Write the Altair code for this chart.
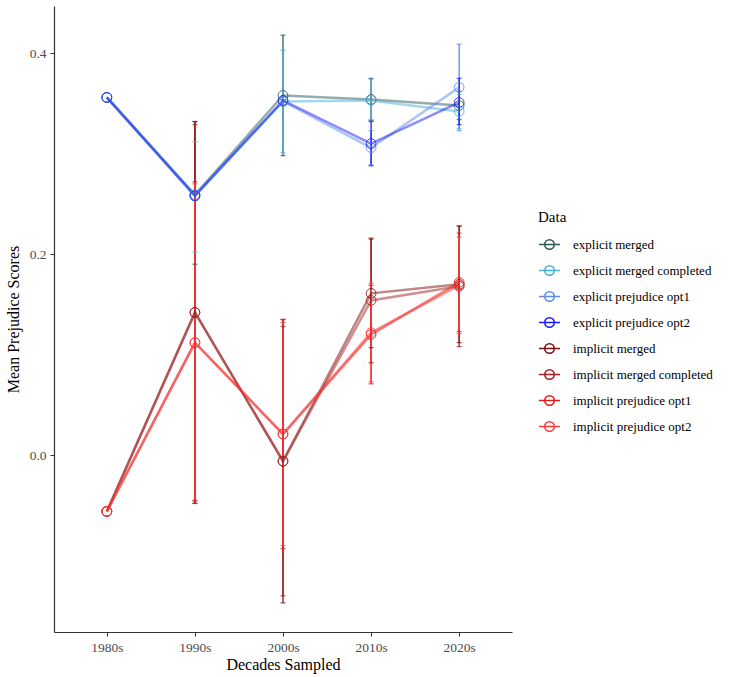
import altair as alt
import pandas as pd

decades = ["1980s", "1990s", "2000s", "2010s", "2020s"]
series_names = [
    "explicit merged", "explicit merged completed",
    "explicit prejudice opt1", "explicit prejudice opt2",
    "implicit merged", "implicit merged completed",
    "implicit prejudice opt1", "implicit prejudice opt2",
]
colors = ["#2f5b5b", "#45b0dd", "#5b8de8", "#1a1aff",
          "#7a1010", "#a82020", "#e81818", "#ff3a3a"]

# means per series (1980s..2020s)
explicit_merged = [0.356, 0.259, 0.358, 0.354, 0.348]
explicit_merged_completed = [0.356, 0.258, 0.352, 0.353, 0.342]
explicit_opt1 = [0.356, 0.259, 0.352, 0.306, 0.366]
explicit_opt2 = [0.356, 0.258, 0.353, 0.310, 0.351]
implicit_merged = [-0.056, 0.142, -0.006, 0.161, 0.170]
implicit_merged_completed = [-0.056, 0.142, -0.006, 0.154, 0.168]
implicit_opt1 = [-0.056, 0.112, 0.021, 0.120, 0.172]
implicit_opt2 = [-0.056, 0.112, 0.021, 0.122, 0.169]

# error bar bounds (None = no bar)
explicit_merged_lo = [None, 0.190, 0.298, 0.333, 0.334]
explicit_merged_hi = [None, 0.332, 0.418, 0.375, 0.362]
explicit_merged_completed_lo = [None, 0.202, 0.301, 0.334, 0.325]
explicit_merged_completed_hi = [None, 0.312, 0.403, 0.374, 0.359]
explicit_opt1_lo = [None, None, None, 0.289, 0.323]
explicit_opt1_hi = [None, None, None, 0.323, 0.409]
explicit_opt2_lo = [None, None, None, 0.288, 0.329]
explicit_opt2_hi = [None, None, None, 0.332, 0.375]
implicit_merged_lo = [None, -0.048, -0.147, 0.107, 0.112]
implicit_merged_hi = [None, 0.332, 0.135, 0.215, 0.228]
implicit_merged_completed_lo = [None, -0.045, -0.140, 0.092, 0.108]
implicit_merged_completed_hi = [None, 0.329, 0.128, 0.216, 0.228]
implicit_opt1_lo = [None, -0.048, -0.093, 0.071, 0.123]
implicit_opt1_hi = [None, 0.272, 0.135, 0.169, 0.221]
implicit_opt2_lo = [None, -0.046, -0.090, 0.073, 0.121]
implicit_opt2_hi = [None, 0.270, 0.132, 0.171, 0.217]

means = [explicit_merged, explicit_merged_completed, explicit_opt1, explicit_opt2,
         implicit_merged, implicit_merged_completed, implicit_opt1, implicit_opt2]
los = [explicit_merged_lo, explicit_merged_completed_lo, explicit_opt1_lo, explicit_opt2_lo,
       implicit_merged_lo, implicit_merged_completed_lo, implicit_opt1_lo, implicit_opt2_lo]
his = [explicit_merged_hi, explicit_merged_completed_hi, explicit_opt1_hi, explicit_opt2_hi,
       implicit_merged_hi, implicit_merged_completed_hi, implicit_opt1_hi, implicit_opt2_hi]

rows, err_rows = [], []
for si, name in enumerate(series_names):
    for di, d in enumerate(decades):
        rows.append({"Data": name, "decade": d, "mean": means[si][di], "order": si})
        if los[si][di] is not None:
            err_rows.append({"Data": name, "decade": d, "lo": los[si][di],
                             "hi": his[si][di], "order": si})
df = pd.DataFrame(rows)
edf = pd.DataFrame(err_rows)

FONT = "Liberation Serif"
xenc = alt.X("decade:O", sort=decades, title="Decades Sampled",
             scale=alt.Scale(type="point", padding=0.6),
             axis=alt.Axis(labelAngle=0))
yscale = alt.Scale(domain=[-0.176, 0.447], nice=False, zero=False)
color_scale = alt.Scale(domain=series_names, range=colors)

sym = "M-1,0L1,0M0.45,0A0.45,0.45,0,1,1,-0.45,0A0.45,0.45,0,1,1,0.45,0Z"
legend = alt.Legend(title="Data", orient="none", legendX=484, legendY=204,
                    symbolType=sym, symbolSize=441, symbolStrokeWidth=1.6,
                    symbolOpacity=1, symbolFillColor="transparent",
                    labelOffset=12, rowPadding=6, titlePadding=8, padding=0)
cenc = alt.Color("Data:N", scale=color_scale, legend=None, sort=series_names)
cenc_leg = alt.Color("Data:N", scale=color_scale, legend=legend, sort=series_names)

base = alt.Chart(df)
lines = base.mark_line(strokeWidth=2.5, opacity=0.5).encode(
    x=xenc,
    y=alt.Y("mean:Q", scale=yscale, title="Mean Prejudice Scores",
            axis=alt.Axis(values=[0.0, 0.2, 0.4], format=".1f", grid=False)),
    color=cenc,
    detail="Data:N",
)
points = base.mark_point(filled=False, size=95, strokeWidth=1, opacity=0.85).encode(
    x=xenc,
    y=alt.Y("mean:Q", scale=yscale),
    color=cenc_leg,
)
ebase = alt.Chart(edf)
rules = ebase.mark_rule(strokeWidth=1.3).encode(
    x=xenc,
    y=alt.Y("lo:Q", scale=yscale),
    y2="hi:Q",
    color=cenc,
)
cap_lo = ebase.mark_tick(size=5, thickness=1.3).encode(
    x=xenc, y=alt.Y("lo:Q", scale=yscale), color=cenc,
)
cap_hi = ebase.mark_tick(size=5, thickness=1.3).encode(
    x=xenc, y=alt.Y("hi:Q", scale=yscale), color=cenc,
)

chart = alt.layer(rules, cap_lo, cap_hi, lines, points).resolve_legend(
    color="independent"
).properties(
    width=458, height=626,
    autosize=alt.AutoSizeParams(type="none"),
    padding={"left": 54, "top": 6, "right": 219, "bottom": 45},
).configure_view(stroke=None).configure_axis(
    labelFont=FONT, titleFont=FONT, labelFontSize=13.5, titleFontSize=16,
    labelColor="#4d4d4d", titleColor="#000000", titleFontWeight="normal",
    domainColor="#333333", domainWidth=1.2, tickColor="#333333", tickSize=4,
    labelPadding=4,
).configure_axisY(titlePadding=8).configure_axisX(titlePadding=3).configure_legend(
    labelFont=FONT, titleFont=FONT, labelFontSize=13, titleFontSize=15,
    titleFontWeight="normal", labelColor="#000000", titleColor="#000000",
)

chart.save("out.html", embed_options={"renderer": "svg", "actions": False})
